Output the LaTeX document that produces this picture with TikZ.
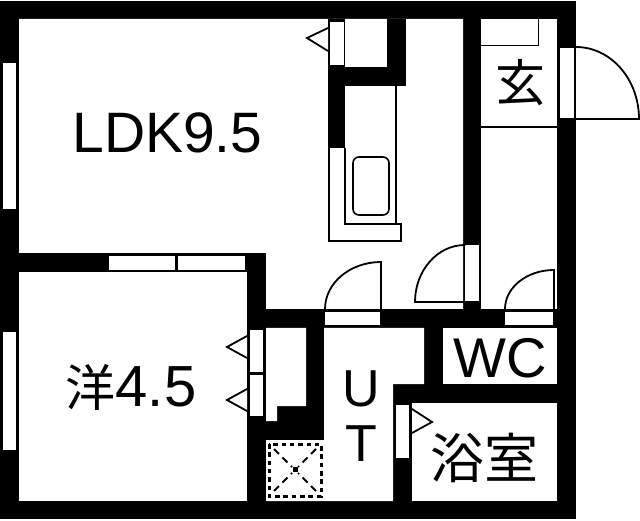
\documentclass[tikz,border=0pt]{standalone}
\usepackage{fontspec}
\setmainfont{Liberation Sans}
\newfontfamily\cjkfont{Noto Sans CJK JP}[Scale=1.0]
\tikzset{
  room/.style={fill=white,draw=none},
  wallfill/.style={fill=black,draw=none},
  pane/.style={fill=white,draw=none},
  thin line/.style={draw=black,line width=1.6pt},
  leaf/.style={draw=black,line width=1.8pt,line cap=round},
  swing/.style={draw=black,fill=white,line width=1.8pt,line join=miter},
  label/.style={inner sep=0pt,outer sep=0pt,text=black},
  speck/.style={draw=black,line width=3pt,dash pattern=on 4.5pt off 3.8pt},
  speckdiag/.style={draw=black,line width=2pt,dash pattern=on 7pt off 5pt}
}
\begin{document}
\begin{tikzpicture}[x=1pt,y=-1pt]
\useasboundingbox (0,0) rectangle (640,521);
\fill[white] (0,0) rectangle (640,521);
% building block
\fill[wallfill] (0,1) rectangle (576,519);
% rooms
\fill[room] (19,19) -- (463,19) -- (463,309) -- (266,309) -- (266,253) -- (19,253) -- cycle;
\fill[room] (19,272) rectangle (247,501);
\fill[room] (481,19) rectangle (557,309);
\fill[room] (266,328) -- (306,328) -- (306,406) -- (277,406) -- (277,421) -- (266,421) -- cycle;
\fill[room] (324,328) -- (424,328) -- (424,384) -- (393,384) -- (393,501) -- (266,501) -- (266,440) -- (324,440) -- cycle;
\fill[room] (443,328) rectangle (557,384);
\fill[room] (412,403) rectangle (557,501);
% kitchen walls
\fill[wallfill] (387,19) rectangle (406,86);
\fill[wallfill] (328,67) rectangle (406,86);
\fill[wallfill] (328,67) rectangle (345,148);
% kitchen counter
\draw[thin line] (345,148) -- (345,224) -- (401,224) -- (401,241) -- (329,241) -- (329,148);
\draw[thin line] (396,86) -- (396,224);
\draw[thin line,rounded corners=6pt] (353,157) rectangle (389,215);
% fridge door
\fill[wallfill] (328,19) rectangle (345,67);
\fill[pane] (330,22) rectangle (344,65);
% windows
\fill[pane] (3,63) rectangle (16,209);
\fill[pane] (3,332) rectangle (16,450);
\fill[pane] (109,256) rectangle (175,270);
\fill[pane] (178,256) rectangle (245,270);
% wardrobe doors
\fill[pane] (250,330) rectangle (263,372);
\fill[pane] (250,375) rectangle (263,416);
% door openings
\fill[pane] (325,312) rectangle (380,325);
\fill[pane] (465,245) rectangle (479,301);
\fill[pane] (505,312) rectangle (553,325);
\fill[pane] (396,405) rectangle (409,458);
\fill[pane] (560,48) rectangle (574,118);
% triangles
\draw[swing] (328,28) -- (307,38) -- (328,51);
\draw[swing] (247,336) -- (227,347) -- (247,358);
\draw[swing] (247,389) -- (227,400) -- (247,411);
\draw[swing] (412,409) -- (432,422) -- (412,433);
% door leaves and arcs
\draw[leaf] (381,309) -- (381,262) arc[start angle=-90,end angle=-180,x radius=56,y radius=47];
\draw[leaf] (465,245) arc[start angle=-90,end angle=-180,x radius=50,y radius=57] -- (465,302);
\draw[leaf] (554,309) -- (554,270) arc[start angle=-90,end angle=-180,x radius=49,y radius=39];
\draw[leaf] (576,47) arc[start angle=-90,end angle=0,x radius=63,y radius=72] -- (576,119);
% entrance lines
\draw[thin line] (481,127) -- (557,127);
\draw[thin line] (481,45.5) -- (538.5,45.5) -- (538.5,19);
% dashed shaft
\draw[speck] (269,444) rectangle (321,496);
\draw[speckdiag] (274,449) -- (292,467);
\draw[speckdiag] (316,449) -- (298,467);
\draw[speckdiag] (274,491) -- (292,473);
\draw[speckdiag] (316,491) -- (298,473);
\fill[black] (292.5,467) rectangle (297.5,472);
% labels
\node[label,font=\fontsize{57}{60}\selectfont] (ldk) at (167.5,133) {LDK9.5};
\node[label,font=\fontsize{58}{60}\selectfont] (west) at (131,387) {{\cjkfont\fontsize{50}{60}\selectfont 洋}4.5};
\node[label,font=\fontsize{56}{60}\selectfont] (wc) at (500,358) {WC};
\node[label,font=\fontsize{52}{60}\selectfont] (u) at (361,389) {U};
\node[label,font=\fontsize{52}{60}\selectfont] (t) at (361,444) {T};
\node[label,font=\cjkfont\fontsize{54}{60}\selectfont] (bath) at (484,458) {浴室};
\node[label,font=\cjkfont\fontsize{50}{60}\selectfont] (gen) at (520,83) {玄};
\end{tikzpicture}
\end{document}
